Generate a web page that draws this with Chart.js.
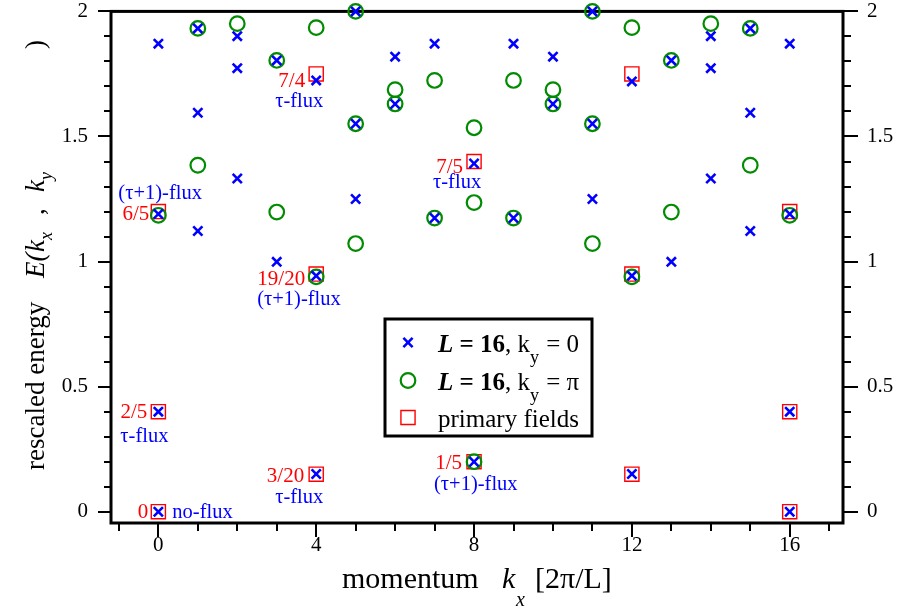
<!DOCTYPE html>
<html><head><meta charset="utf-8">
<script src="https://cdn.jsdelivr.net/npm/chart.js@4/dist/chart.umd.min.js"></script>
<style>html,body{margin:0;padding:0;background:#fff;}#wrap{position:relative;width:901px;height:610px;}</style>
</head><body><div id="wrap"><canvas id="c" width="901" height="610"></canvas></div>
<script>
// ---- data ----
const momenta = [0,1,2,3,4,5,6,7,8,9,10,11,12,13,14,15,16];
const energiesKy0 = [
  [1.871, 1.190, 0.400, 0.000],
  [1.932, 1.595, 1.122],
  [1.901, 1.773, 1.332],
  [1.804, 0.999],
  [1.724, 0.943, 0.151],
  [2.000, 1.551, 1.250],
  [1.819, 1.630],
  [1.871, 1.174],
  [1.392, 0.200],
  [1.871, 1.174],
  [1.819, 1.630],
  [2.000, 1.551, 1.250],
  [1.720, 0.943, 0.151],
  [1.804, 0.999],
  [1.901, 1.773, 1.332],
  [1.932, 1.595, 1.122],
  [1.871, 1.190, 0.400, 0.000]
];
const energiesKyPi = [
  [1.185],
  [1.932, 1.385],
  [1.951],
  [1.804, 1.198],
  [1.935, 0.939],
  [2.000, 1.551, 1.072],
  [1.687, 1.630],
  [1.724, 1.174],
  [1.535, 1.236, 0.200],
  [1.724, 1.174],
  [1.687, 1.630],
  [2.000, 1.551, 1.072],
  [1.935, 0.939],
  [1.804, 1.198],
  [1.951],
  [1.932, 1.385],
  [1.185]
];
const primaryKx = [0, 0, 0, 4, 4, 4, 8, 8, 12, 12, 12, 16, 16, 16];
const primaryE  = [0, 0.40, 1.20, 0.15, 0.95, 1.75, 0.20, 1.40, 0.15, 0.95, 1.75, 0, 0.40, 1.20];
// annotated primary fields (first eight entries of primaryKx/primaryE)
const fieldLabels = ['0', '2/5', '6/5', '3/20', '19/20', '7/4', '1/5', '7/5'];
const fluxLabels  = ['no-flux', 'τ-flux', '(τ+1)-flux', 'τ-flux', '(τ+1)-flux', 'τ-flux', '(τ+1)-flux', 'τ-flux'];
const xTickValues = [0, 4, 8, 12, 16];
const yTickValues = [0, 0.5, 1, 1.5, 2];
const legendNames = ['L = 16, ky = 0', 'L = 16, ky = π', 'primary fields'];

// ---- styles / layout ----
const SERIF = "'Liberation Serif', 'Times New Roman', serif";
const BLUE = '#0000ff', GREEN = '#008b00', RED = '#ff0000';
// label offsets relative to the marked point: [red right-edge dx, red dy, blue dx, blue dy]
const annotLayout = [
  [-10, 1, 14, 1],
  [-11, 1, -38, 25],
  [-9, 3, -40, -18],
  [-12, 2, -41, 23],
  [-11, 5, -59, 26],
  [-11, 8, -41, 28],
  [-12, 2, -40, 23],
  [-11, 6, -41, 21]
];

function pairs(kx, levels) {
  const out = [];
  kx.forEach((k, i) => levels[i].forEach(e => out.push({x: k, y: e})));
  return out;
}

const crossStyle  = {pointStyle: 'crossRot', radius: 6.5, borderWidth: 2.6, borderColor: BLUE};
const circleStyle = {pointStyle: 'circle', radius: 7.3, borderWidth: 2.2, borderColor: GREEN};
const rectStyle   = {pointStyle: 'rect', radius: 10, borderWidth: 1.4, borderColor: RED};

function drawRuns(ctx, x, y, parts) {
  for (const p of parts) {
    ctx.font = p.font;
    ctx.fillText(p.t, x + (p.dx || 0), y + (p.dy || 0));
    x += ctx.measureText(p.t).width + (p.gap || 0);
  }
  return x;
}

const framePlugin = {
  id: 'frame',
  beforeDatasetsDraw(chart) {
    const {ctx, chartArea: a, scales} = chart;
    ctx.save();
    ctx.strokeStyle = '#000';
    ctx.lineWidth = 2;
    ctx.beginPath();
    for (let i = 0; i <= 20; i++) {
      const py = Math.round(scales.y.getPixelForValue(i / 10));
      const major = i % 5 === 0;
      ctx.moveTo(a.left, py); ctx.lineTo(a.left - (major ? 13 : 7), py);
      ctx.moveTo(a.right, py); ctx.lineTo(a.right + (major ? 15 : 8), py);
    }
    for (let k = -1; k <= 17; k++) {
      const px = Math.round(scales.x.getPixelForValue(k));
      const major = k % 4 === 0;
      ctx.moveTo(px, a.bottom); ctx.lineTo(px, a.bottom + (major ? 14 : 8));
    }
    ctx.stroke();
    ctx.lineWidth = 3;
    ctx.lineJoin = 'miter';
    ctx.strokeRect(a.left, a.top, a.right - a.left, a.bottom - a.top);
    ctx.restore();
  },
  afterDraw(chart) {
    const {ctx, scales} = chart;
    ctx.save();
    ctx.textBaseline = 'middle';
    // annotations next to the primary fields
    for (let i = 0; i < fieldLabels.length; i++) {
      const px = scales.x.getPixelForValue(primaryKx[i]);
      const py = scales.y.getPixelForValue(primaryE[i]);
      const L = annotLayout[i];
      ctx.font = '21px ' + SERIF;
      ctx.fillStyle = RED;
      ctx.textAlign = 'right';
      ctx.fillText(fieldLabels[i], px + L[0], py + L[1]);
      ctx.font = '20.5px ' + SERIF;
      ctx.fillStyle = BLUE;
      ctx.textAlign = 'left';
      ctx.fillText(fluxLabels[i], px + L[2], py + L[3]);
    }
    // legend
    const lx = 385, ly = 319, lw = 207, lh = 117;
    ctx.fillStyle = '#fff';
    ctx.fillRect(lx, ly, lw, lh);
    ctx.strokeStyle = '#000';
    ctx.lineWidth = 3;
    ctx.strokeRect(lx, ly, lw, lh);
    const styles = [crossStyle, circleStyle, rectStyle];
    const rowsY = [342.5, 380.5, 417.5];
    styles.forEach((s, i) => {
      ctx.save();
      ctx.strokeStyle = s.borderColor;
      ctx.fillStyle = 'rgba(0,0,0,0)';
      ctx.lineWidth = s.borderWidth;
      Chart.helpers.drawPoint(ctx, {pointStyle: s.pointStyle, radius: s.radius, borderWidth: s.borderWidth, rotation: 0}, 408, rowsY[i]);
      ctx.restore();
    });
    ctx.fillStyle = '#000';
    ctx.textAlign = 'left';
    ctx.textBaseline = 'alphabetic';
    const F = (st, sz) => st + ' ' + sz + 'px ' + SERIF;
    for (let i = 0; i < 2; i++) {
      const nm = legendNames[i];
      const tail = nm.slice(nm.lastIndexOf('=') + 1);
      drawRuns(ctx, 438, rowsY[i] + 9, [
        {t: 'L', font: F('italic bold', 25)},
        {t: ' = 16', font: F('bold', 25)},
        {t: ', k', font: F('normal', 25)},
        {t: 'y', font: F('normal', 18), dy: 11, gap: 1},
        {t: ' =' + tail, font: F('normal', 25)}
      ]);
    }
    ctx.font = F('normal', 25);
    ctx.fillText(legendNames[2], 438, rowsY[2] + 9);
    // x axis title
    ctx.font = F('normal', 30); ctx.fillText('momentum', 342, 588);
    ctx.font = F('italic', 30); ctx.fillText('k', 502, 588);
    ctx.font = F('italic', 20); ctx.fillText('x', 516, 606);
    ctx.font = F('normal', 30); ctx.fillText('[2π/L]', 535, 588);
    // y axis title (rotated)
    ctx.save();
    ctx.translate(44, 0);
    ctx.rotate(-Math.PI / 2);
    const Y = (py) => -py;
    ctx.font = F('normal', 27); ctx.fillText('rescaled energy', Y(470), 0);
    ctx.font = F('italic', 27); ctx.fillText('E(', Y(278), 0);
    ctx.fillText('k', Y(252), 0);
    ctx.font = F('italic', 18); ctx.fillText('x', Y(240), 8);
    ctx.font = F('normal', 27); ctx.fillText(',', Y(215), 0);
    ctx.font = F('italic', 27); ctx.fillText('k', Y(192), 0);
    ctx.font = F('italic', 18); ctx.fillText('y', Y(180), 8);
    ctx.font = F('normal', 27); ctx.fillText(')', Y(49), 0);
    ctx.restore();
    ctx.restore();
  }
};

const tickFont = {family: SERIF, size: 21, lineHeight: 1};
const yScaleBase = (pos, gap, w) => ({
  type: 'linear', position: pos, min: -0.045, max: 2,
  afterBuildTicks: s => { s.ticks = yTickValues.map(v => ({value: v})); },
  grid: {display: false, drawTicks: true, tickLength: gap},
  border: {display: false},
  ticks: {padding: 0, font: tickFont, color: '#000', callback: v => String(v), autoSkip: false},
  afterFit: s => { s.width = w; }
});

new Chart(document.getElementById('c'), {
  type: 'scatter',
  data: {
    datasets: [
      Object.assign({label: legendNames[0], data: pairs(momenta, energiesKy0), order: 0, clip: false, backgroundColor: 'rgba(0,0,0,0)'}, crossStyle),
      Object.assign({label: legendNames[1], data: pairs(momenta, energiesKyPi), order: 1, clip: false, backgroundColor: 'rgba(0,0,0,0)'}, circleStyle),
      Object.assign({label: legendNames[2], data: primaryKx.map((k, i) => ({x: k, y: primaryE[i]})), order: 2, clip: false, backgroundColor: 'rgba(0,0,0,0)'}, rectStyle)
    ]
  },
  options: {
    responsive: false,
    animation: false,
    events: [],
    layout: {padding: {top: 11, left: 0, right: 0, bottom: 0}},
    plugins: {legend: {display: false}, tooltip: {enabled: false}},
    elements: {point: {hoverRadius: 0}},
    scales: {
      x: {
        type: 'linear', position: 'bottom', min: -1.2, max: 17.35,
        afterBuildTicks: s => { s.ticks = xTickValues.map(v => ({value: v})); },
        grid: {display: false, drawTicks: false},
        border: {display: false},
        ticks: {padding: 12, font: tickFont, color: '#000', callback: v => String(v), autoSkip: false, maxRotation: 0},
        afterFit: s => { s.height = 87; }
      },
      y: yScaleBase('left', 23, 111),
      y2: yScaleBase('right', 24, 58)
    }
  },
  plugins: [framePlugin]
});
</script>
</body></html>
